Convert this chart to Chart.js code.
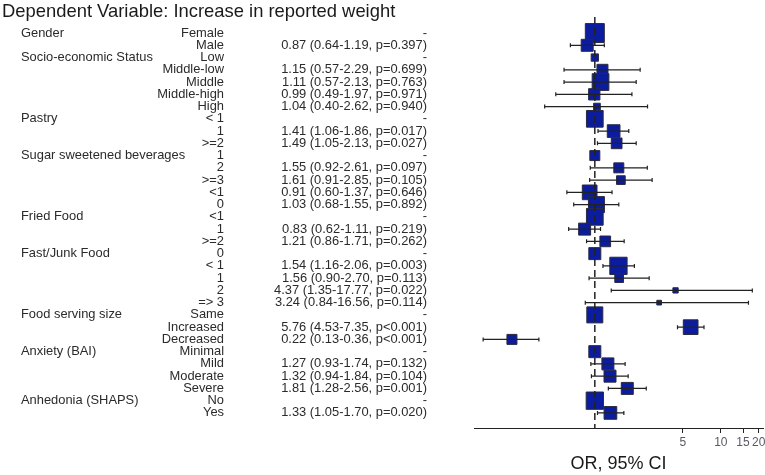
<!DOCTYPE html>
<html>
<head>
<meta charset="utf-8">
<script src="https://cdn.jsdelivr.net/npm/chart.js@4"></script>
<style>
  body { margin: 0; background: #fff; overflow: hidden; }
  #wrap { width: 765px; height: 475px; }
</style>
</head>
<body>
<div id="wrap"><canvas id="forest"></canvas></div>
<script>
// Данные
var titleText = "Dependent Variable: Increase in reported weight";
var groups = ["Gender", "Socio-economic Status", "Pastry", "Sugar sweetened beverages",
  "Fried Food", "Fast/Junk Food", "Food serving size", "Anxiety (BAI)", "Anhedonia (SHAPS)"];
var groupSizes = [2, 5, 3, 5, 3, 5, 3, 4, 2];
var categories = ["Female", "Male",
  "Low", "Middle-low", "Middle", "Middle-high", "High",
  "< 1", "1", ">=2",
  "1", "2", ">=3", "<1", "0",
  "<1", "1", ">=2",
  "0", "< 1", "1", "2", "=> 3",
  "Same", "Increased", "Decreased",
  "Minimal", "Mild", "Moderate", "Severe",
  "No", "Yes"];
// null = референсная категория
var orValues = [null, 0.87, null, 1.15, 1.11, 0.99, 1.04, null, 1.41, 1.49,
  null, 1.55, 1.61, 0.91, 1.03, null, 0.83, 1.21, null, 1.54, 1.56, 4.37, 3.24,
  null, 5.76, 0.22, null, 1.27, 1.32, 1.81, null, 1.33];
var ciLow = [null, 0.64, null, 0.57, 0.57, 0.49, 0.40, null, 1.06, 1.05,
  null, 0.92, 0.91, 0.60, 0.68, null, 0.62, 0.86, null, 1.16, 0.90, 1.35, 0.84,
  null, 4.53, 0.13, null, 0.93, 0.94, 1.28, null, 1.05];
var ciHigh = [null, 1.19, null, 2.29, 2.13, 1.97, 2.62, null, 1.86, 2.13,
  null, 2.61, 2.85, 1.37, 1.55, null, 1.11, 1.71, null, 2.06, 2.70, 17.77, 16.56,
  null, 7.35, 0.36, null, 1.74, 1.84, 2.56, null, 1.70];
var pValues = [null, "0.397", null, "0.699", "0.763", "0.971", "0.940", null, "0.017", "0.027",
  null, "0.097", "0.105", "0.646", "0.892", null, "0.219", "0.262", null, "0.003", "0.113", "0.022", "0.114",
  null, "<0.001", "<0.001", null, "0.132", "0.104", "0.001", null, "0.020"];
// относительный вес (размер квадрата)
var weights = [19, 12, 7.3, 11, 16.7, 11.3, 6.7, 16.7, 12.7, 10.7,
  10, 10, 8.7, 14.7, 16, 16.7, 12, 10.7, 12, 17.3, 8.7, 5.3, 4.7,
  16, 14.7, 10, 12, 12, 12, 12, 17.3, 12.7];
var xTicks = [5, 10, 15, 20];

var FONT = '"Liberation Sans", Arial, sans-serif';
var TEXT_COLOR = "#2b2b2b";

function estimateText(i) {
  if (orValues[i] === null) return "-";
  var p = pValues[i].charAt(0) === "<" ? "p" + pValues[i] : "p=" + pValues[i];
  return orValues[i].toFixed(2) + " (" + ciLow[i].toFixed(2) + "-" + ciHigh[i].toFixed(2) + ", " + p + ")";
}

// Текст таблицы слева и заголовок
var tablePlugin = {
  id: "forestTable",
  afterDraw: function (chart) {
    var ctx = chart.ctx;
    var y = chart.scales.y;
    ctx.save();
    ctx.fillStyle = "#1a1a1a";
    ctx.font = "18.4px " + FONT;
    ctx.textBaseline = "middle";
    ctx.textAlign = "left";
    ctx.fillText(titleText, 2, 12);

    ctx.fillStyle = TEXT_COLOR;
    ctx.font = "12.9px " + FONT;
    var row = 0;
    for (var g = 0; g < groups.length; g++) {
      ctx.textAlign = "left";
      ctx.fillText(groups[g], 21, y.getPixelForValue(row));
      row += groupSizes[g];
    }
    for (var i = 0; i < categories.length; i++) {
      var py = y.getPixelForValue(i);
      ctx.textAlign = "right";
      ctx.fillText(categories[i], 224, py);
      ctx.fillText(estimateText(i), 427, py);
    }
    ctx.restore();
  }
};

// Доверительные интервалы и линия OR = 1
var ciPlugin = {
  id: "ciLines",
  afterDatasetsDraw: function (chart) {
    var ctx = chart.ctx;
    var x = chart.scales.x, y = chart.scales.y;
    var area = chart.chartArea;
    ctx.save();
    ctx.strokeStyle = "#222";
    ctx.lineWidth = 1.2;
    for (var i = 0; i < categories.length; i++) {
      if (ciLow[i] === null) continue;
      var py = y.getPixelForValue(i);
      var x1 = x.getPixelForValue(ciLow[i]);
      var x2 = x.getPixelForValue(ciHigh[i]);
      ctx.beginPath();
      ctx.moveTo(x1, py); ctx.lineTo(x2, py);
      ctx.moveTo(x1, py - 2); ctx.lineTo(x1, py + 2);
      ctx.moveTo(x2, py - 2); ctx.lineTo(x2, py + 2);
      ctx.stroke();
    }
    var px = x.getPixelForValue(1);
    ctx.lineWidth = 1.5;
    ctx.setLineDash([7, 4]);
    ctx.beginPath();
    ctx.moveTo(px, area.top);
    ctx.lineTo(px, area.bottom);
    ctx.stroke();
    ctx.restore();
  }
};

var points = categories.map(function (c, i) {
  return { x: orValues[i] === null ? 1 : orValues[i], y: i };
});

new Chart(document.getElementById("forest"), {
  type: "scatter",
  data: {
    datasets: [{
      data: points,
      pointStyle: "rect",
      pointRadius: weights.map(function (w) { return w / 2 * Math.SQRT2; }),
      pointHoverRadius: weights.map(function (w) { return w / 2 * Math.SQRT2; }),
      backgroundColor: "#0b1c9f",
      borderColor: "#2a2a40",
      borderWidth: 1
    }]
  },
  options: {
    responsive: true,
    maintainAspectRatio: false,
    animation: false,
    layout: { autoPadding: false, padding: { left: 474, top: 17, right: 2, bottom: 0 } },
    plugins: { legend: { display: false }, tooltip: { enabled: false } },
    scales: {
      x: {
        type: "logarithmic",
        min: 0.11,
        max: 21.6,
        afterBuildTicks: function (s) {
          s.ticks = xTicks.map(function (v) { return { value: v }; });
        },
        afterFit: function (s) {
          // подпись "20" может выходить за край оси
          s.paddingRight = 0;
          s.paddingLeft = 0;
        },
        ticks: {
          autoSkip: false,
          maxRotation: 0,
          padding: 2,
          color: "#5a5a66",
          font: { family: FONT, size: 12 },
          callback: function (v) { return String(v); }
        },
        grid: { drawOnChartArea: false, drawTicks: true, tickLength: 5, color: "#222" },
        border: { display: true, color: "#222", width: 1 },
        title: {
          display: true,
          text: "OR, 95% CI",
          color: "#1a1a1a",
          font: { family: FONT, size: 18 },
          padding: { top: 2, bottom: 0 }
        }
      },
      y: {
        type: "linear",
        display: false,
        reverse: true,
        min: -1.31,
        max: 32.23
      }
    }
  },
  plugins: [tablePlugin, ciPlugin]
});
</script>
</body>
</html>
